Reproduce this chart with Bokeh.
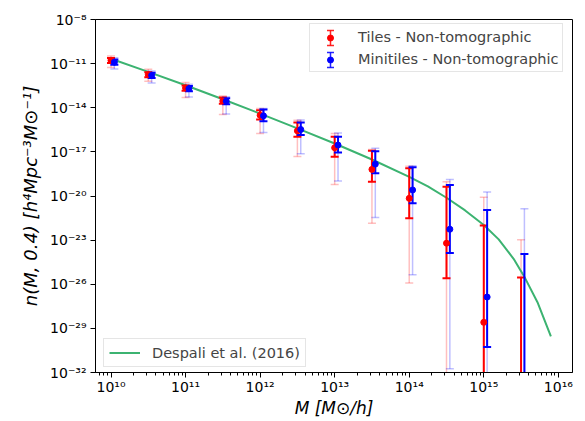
import numpy as np
from bokeh.plotting import figure
from bokeh.models import Range1d, FixedTicker, CustomJSTickFormatter, Legend, LegendItem
from bokeh.embed import file_html
from bokeh.resources import INLINE

# ---------------- data (log10 values) ----------------
# halo mass bins, log10(M [M_sun/h])
tiles_logM = [10.0, 10.5, 11.0, 11.5, 12.0, 12.5, 13.0, 13.5, 14.0, 14.5, 15.0, 15.5]
minitiles_logM = [10.045, 10.545, 11.045, 11.545, 12.045, 12.545, 13.045, 13.545,
                  14.045, 14.545, 15.045, 15.545]

# log10 n(M, 0.4); None = no point visible; -40 = below the axis (clipped)
tiles_logn = [-10.78, -11.75, -12.66, -13.54, -14.51, -15.57, -16.72, -18.19,
              -20.16, -23.21, -28.59, None]
tiles_inner_lo = [-10.96, -11.93, -12.85, -13.72, -14.80, -15.98, -17.33, -19.03,
                  -21.51, -25.60, -40, -40]
tiles_inner_hi = [-10.62, -11.58, -12.48, -13.31, -14.17, -15.00, -15.98, -16.93,
                  -18.12, -19.37, -22.01, -25.54]
tiles_outer_lo = [-11.27, -12.20, -13.31, -14.46, -15.75, -17.31, -19.21, -21.85,
                  -25.92, -40, -40, -40]
tiles_outer_hi = [-10.49, -11.39, -12.29, -13.20, -14.05, -14.85, -15.75, -16.84,
                  -17.97, -19.03, -20.09, -22.98]

minitiles_logn = [-10.90, -11.80, -12.70, -13.56, -14.55, -15.48, -16.54, -17.83,
                  -19.59, -22.26, -26.87, None]
minitiles_inner_lo = [-11.08, -11.98, -12.88, -13.76, -14.92, -15.86, -17.04, -18.46,
                      -20.50, -23.88, -30.26, -40]
minitiles_inner_hi = [-10.72, -11.62, -12.52, -13.36, -14.12, -15.00, -15.98, -16.95,
                      -18.05, -19.25, -20.95, -23.95]
minitiles_outer_lo = [-11.37, -12.32, -13.27, -14.42, -15.68, -17.13, -18.98, -21.47,
                      -25.36, -31.75, -40, -40]
minitiles_outer_hi = [-10.60, -11.50, -12.40, -13.25, -14.05, -14.83, -15.71, -16.75,
                      -17.95, -18.87, -19.73, -20.86]

# Despali et al. (2016) curve
despali_logM = [10.0, 10.5, 11.0, 11.5, 12.0, 12.5, 13.0, 13.5, 14.0, 14.25, 14.5,
                14.75, 15.0, 15.2, 15.4, 15.54, 15.72, 15.9]
despali_logn = [-10.67, -11.56, -12.47, -13.42, -14.40, -15.40, -16.43, -17.52, -18.70,
                -19.35, -20.12, -20.98, -21.97, -22.95, -24.27, -25.45, -27.22, -29.54]

x_major_exp = [10, 11, 12, 13, 14, 15, 16]
y_major_exp = [-32, -29, -26, -23, -20, -17, -14, -11, -8]


def pw(a):
    return [10.0 ** v if v is not None else float("nan") for v in a]


# ---------------- layout constants (pixels) ----------------
FL, FT, FW, FH = 95, 19, 477, 353          # frame left/top/width/height
XLO, XHI, YLO, YHI = 9.792, 16.19, -32.0, -8.0

p = figure(frame_width=FW, frame_height=FH, x_axis_type="log", y_axis_type="log",
           x_range=Range1d(10 ** XLO, 10 ** XHI), y_range=Range1d(10 ** YLO, 10 ** YHI),
           output_backend="svg", toolbar_location=None,
           min_border_left=FL, min_border_right=585 - FL - FW, min_border_top=FT,
           min_border_bottom=421 - FT - FH)
p.background_fill_color = "white"
p.border_fill_color = "white"
p.xgrid.visible = False
p.ygrid.visible = False
p.outline_line_color = "black"
p.outline_line_alpha = 1.0
p.outline_line_width = 1

fmt = CustomJSTickFormatter(code="""
const sup = {'-':'\u207b','0':'\u2070','1':'\u00b9','2':'\u00b2','3':'\u00b3','4':'\u2074',
             '5':'\u2075','6':'\u2076','7':'\u2077','8':'\u2078','9':'\u2079'};
const e = Math.round(Math.log10(tick));
return '10' + String(e).split('').map(c => sup[c]).join('');
""")

for ax in (p.xaxis[0], p.yaxis[0]):
    ax.axis_line_color = "black"
    ax.major_tick_line_color = "black"
    ax.minor_tick_line_color = "black"
    ax.major_tick_in = 0
    ax.major_tick_out = 5
    ax.minor_tick_in = 0
    ax.minor_tick_out = 3
    ax.major_label_text_font = "DejaVu Sans"
    ax.major_label_text_font_size = "14px"
    ax.major_label_text_color = "black"
    ax.axis_label_text_font = "DejaVu Sans"
    ax.axis_label_text_font_size = "17px"
    ax.axis_label_text_font_style = "italic"
    ax.axis_label_text_color = "black"
    ax.formatter = fmt
    ax.major_label_standoff = 1
    ax.axis_label_standoff = 0

p.yaxis.major_label_standoff = 4
p.yaxis.axis_label_standoff = 6
p.yaxis.axis_label_text_font_size = "18px"

p.xaxis.ticker = FixedTicker(ticks=[10.0 ** e for e in x_major_exp],
                             minor_ticks=[k * 10.0 ** e for e in range(9, 17) for k in range(2, 10)])
p.yaxis.ticker = FixedTicker(ticks=[10.0 ** e for e in y_major_exp], minor_ticks=[])
p.yaxis.minor_tick_out = 0
p.xaxis.axis_label = "M [M\u2299/h]"
p.yaxis.axis_label = "n(M, 0.4) [h\u2074Mpc\u207b\u00b3M\u2299\u207b\u00b9]"

RED = "#ff0000"
BLUE = "#0000ff"


def errorbars(xs, lo, hi, color, width, alpha):
    xv = pw(xs)
    lov = pw(lo)
    hiv = pw(hi)
    p.segment(x0=xv, y0=lov, x1=xv, y1=hiv, line_color=color, line_width=width,
              line_alpha=alpha)
    p.scatter(x=xv + xv, y=lov + hiv, marker="dash", size=8, line_color=color,
              line_width=width, line_alpha=alpha)


# light (outer) error bars
errorbars(tiles_logM, tiles_outer_lo, tiles_outer_hi, RED, 1.5, 0.25)
errorbars(minitiles_logM, minitiles_outer_lo, minitiles_outer_hi, BLUE, 1.5, 0.25)

# theory curve
despali = p.line(x=pw(despali_logM), y=pw(despali_logn), line_color="#3cb371", line_width=2)

# dark (inner) error bars
errorbars(tiles_logM, tiles_inner_lo, tiles_inner_hi, RED, 2, 1.0)
errorbars(minitiles_logM, minitiles_inner_lo, minitiles_inner_hi, BLUE, 2, 1.0)

red_pts = p.scatter(x=pw(tiles_logM), y=pw(tiles_logn), marker="circle", size=6,
                    fill_color=RED, line_color=RED)
blue_pts = p.scatter(x=pw(minitiles_logM), y=pw(minitiles_logn), marker="circle", size=6,
                     fill_color=BLUE, line_color=BLUE)

# invisible stand-ins so the legend box/text are laid out; icons drawn below
red_key = p.scatter(x=pw(tiles_logM), y=pw(tiles_logn), marker="circle", size=6,
                    fill_alpha=0, line_alpha=0)
blue_key = p.scatter(x=pw(minitiles_logM), y=pw(minitiles_logn), marker="circle", size=6,
                     fill_alpha=0, line_alpha=0)

# ---------------- legends ----------------
LEG_LEFT, LEG_TOP, PAD, GH, GW, SP = 309, 25, 3, 19, 36, 3   # canvas pixels
leg_h = 2 * PAD + 2 * GH + SP
leg1 = Legend(items=[LegendItem(label="Tiles - Non-tomographic", renderers=[red_key]),
                     LegendItem(label="Minitiles - Non-tomographic", renderers=[blue_key])],
              location=(LEG_LEFT - FL, FH - (LEG_TOP - FT) - leg_h), padding=PAD, spacing=SP,
              glyph_height=GH, glyph_width=GW, label_height=GH, label_standoff=9,
              label_text_font="DejaVu Sans", label_text_font_size="14.5px",
              border_line_color="#cccccc", border_line_width=1,
              background_fill_color="white", background_fill_alpha=0.0)
p.add_layout(leg1)


def px2x(px):
    return 10 ** (XLO + (px - FL) / FW * (XHI - XLO))


def py2y(py):
    return 10 ** (YHI - (py - FT) / FH * (YHI - YLO))


# error-bar icons inside the legend
icon_x = LEG_LEFT + PAD + GW / 2
for i, col in enumerate([RED, BLUE]):
    pyc = LEG_TOP + PAD + GH / 2 + i * (GH + SP)
    xi = px2x(icon_x)
    p.segment(x0=[xi], y0=[py2y(pyc + 7.5)], x1=[xi], y1=[py2y(pyc - 7.5)],
              line_color=col, line_width=1.5, line_alpha=0.85)
    p.scatter(x=[xi, xi], y=[py2y(pyc - 7.5), py2y(pyc + 7.5)], marker="dash", size=7,
              line_color=col, line_width=1.5, line_alpha=0.85)
    p.scatter(x=[xi], y=[py2y(pyc)], marker="circle", size=6, fill_color=col,
              line_color=col)

leg2 = Legend(items=[LegendItem(label="Despali et al. (2016)", renderers=[despali])],
              location=(103 - FL, 5), padding=5, spacing=0, glyph_height=17, glyph_width=31,
              label_height=17, label_standoff=12,
              label_text_font="DejaVu Sans", label_text_font_size="14.5px",
              border_line_color="#cccccc", border_line_width=1,
              background_fill_color="white", background_fill_alpha=0.8)
p.add_layout(leg2)

open("out.html", "w", encoding="utf-8").write(file_html(p, INLINE))
